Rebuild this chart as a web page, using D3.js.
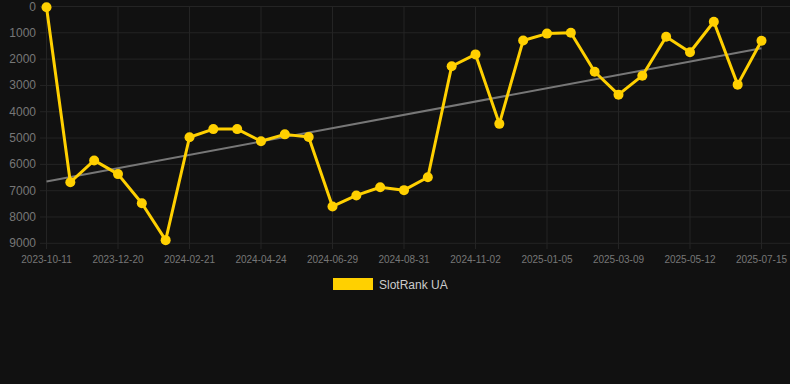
<!DOCTYPE html>
<html><head><meta charset="utf-8">
<script src="https://cdn.jsdelivr.net/npm/d3@7"></script>
<style>html,body{margin:0;padding:0;background:#111111;}svg{display:block;font-family:Arial,"Liberation Sans",sans-serif;}</style>
</head><body><svg id="c" width="790" height="384"></svg>
<script>
const dates = ["2023-10-11","2023-11-01","2023-11-29","2023-12-20","2024-01-10","2024-01-31","2024-02-21","2024-03-13","2024-04-03","2024-04-24","2024-05-16","2024-06-07","2024-06-29","2024-07-20","2024-08-10","2024-08-31","2024-09-21","2024-10-12","2024-11-02","2024-11-23","2024-12-14","2025-01-05","2025-01-26","2025-02-16","2025-03-09","2025-03-30","2025-04-20","2025-05-12","2025-06-02","2025-06-23","2025-07-15"];
const ranks = [30,6680,5850,6370,7480,8880,4970,4660,4660,5120,4860,4960,7600,7180,6870,6980,6490,2270,1820,4460,1290,1030,1000,2480,3350,2630,1150,1740,580,2970,1300];
const yTicks = [0,1000,2000,3000,4000,5000,6000,7000,8000,9000];
const seriesName = "SlotRank UA";

const svg = d3.select("#c");
const x = d3.scalePoint().domain(dates).range([46.5, 761.5]);
const y = d3.scaleLinear().domain([0, 9000]).range([6.5, 243.3]);

// grid
svg.append("g").selectAll("line").data(yTicks).join("line")
  .attr("x1", 40).attr("x2", 790).attr("y1", d => y(d)).attr("y2", d => y(d))
  .attr("stroke", "#242424").attr("stroke-width", 1);
const labeled = dates.filter((d, i) => i % 3 === 0);
svg.append("g").selectAll("line").data(labeled).join("line")
  .attr("x1", d => x(d)).attr("x2", d => x(d)).attr("y1", 6.5).attr("y2", 249)
  .attr("stroke", "#242424").attr("stroke-width", 1);

// y labels
svg.append("g").selectAll("text").data(yTicks).join("text")
  .attr("x", 36).attr("y", d => y(d) + 4).attr("text-anchor", "end")
  .attr("fill", "#777").attr("font-size", 12).text(d => d);
// x labels
svg.append("g").selectAll("text").data(labeled).join("text")
  .attr("x", d => x(d)).attr("y", 263).attr("text-anchor", "middle")
  .attr("fill", "#777").attr("font-size", 10).text(d => d);

// trend line (least squares)
const n = ranks.length;
const idx = d3.range(n);
const mx = d3.mean(idx), my = d3.mean(ranks);
const slope = d3.sum(idx, i => (i - mx) * (ranks[i] - my)) / d3.sum(idx, i => (i - mx) ** 2);
const icpt = my - slope * mx;
svg.append("line")
  .attr("x1", x(dates[0])).attr("y1", y(icpt))
  .attr("x2", x(dates[n - 1])).attr("y2", y(icpt + slope * (n - 1)))
  .attr("stroke", "#777").attr("stroke-width", 2);

// series
const line = d3.line().x((d, i) => x(dates[i])).y(d => y(d));
svg.append("path").datum(ranks).attr("d", line)
  .attr("fill", "none").attr("stroke", "#FFD000").attr("stroke-width", 3).attr("stroke-linejoin", "round");
svg.append("g").selectAll("circle").data(ranks).join("circle")
  .attr("cx", (d, i) => x(dates[i])).attr("cy", d => y(d)).attr("r", 5)
  .attr("fill", "#FFD000");

// legend
svg.append("rect").attr("x", 333).attr("y", 278).attr("width", 40).attr("height", 12).attr("fill", "#FFD000");
svg.append("text").attr("x", 379).attr("y", 289).attr("fill", "#ccc").attr("font-size", 12).text(seriesName);
</script></body></html>
